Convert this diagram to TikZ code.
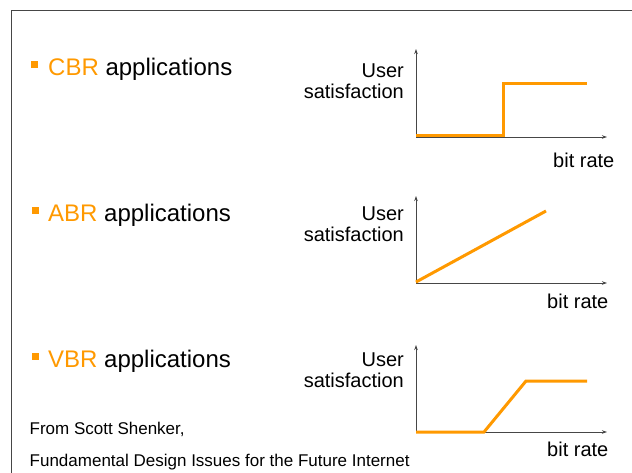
\documentclass[tikz,border=0pt]{standalone}
\usepackage{fontspec}
\setmainfont{Liberation Sans}
\usetikzlibrary{arrows.meta}
\definecolor{accent}{RGB}{255,153,0}
\definecolor{axisgray}{RGB}{70,70,70}
\begin{document}
\begin{tikzpicture}[x=1pt,y=-1pt,
  heading/.style={anchor=base west,inner sep=0pt,font=\fontsize{24}{28}\selectfont},
  ylabel/.style={anchor=base east,inner sep=0pt,font=\fontsize{20}{21}\selectfont},
  xlabel/.style={anchor=base west,inner sep=0pt,font=\fontsize{20}{24}\selectfont},
  credit/.style={anchor=base west,inner sep=0pt,font=\fontsize{17}{20}\selectfont},
  axis/.style={draw=axisgray,line width=0.9pt,-{Stealth[length=5pt,width=3.5pt]}},
  curve/.style={draw=accent,line width=3pt,line join=miter},
  bulletsq/.style={fill=accent}]
\useasboundingbox (0,0) rectangle (632,473);
% slide frame
\draw[axisgray,line width=1pt] (640,10.5) -- (11.5,10.5) -- (11.5,480);

% ---------- CBR ----------
\fill[bulletsq] (31,61) rectangle (38,68);
\node[heading] (cbr) at (48,76) {\textcolor{accent}{CBR} applications};
\node[ylabel] (cbrU) at (404,77.5) {User};
\node[ylabel] (cbrS) at (404,98.5) {satisfaction};
\coordinate (c0) at (416,137);
\coordinate (cy) at (416,49);
\coordinate (cx) at (607,137);
\draw[axis] (c0) -- (cy);
\draw[axis] (c0) -- (cx);
\node[xlabel] (cbrX) at (553,168) {bit rate};
\coordinate (c1) at (416,135.5);
\coordinate (c2) at (503.5,135.5);
\coordinate (c3) at (503.5,84);
\coordinate (c4) at (587,84);
\draw[curve] (c1) -- (c2) -- (c3) -- (c4);

% ---------- ABR ----------
\fill[bulletsq] (31.5,207) rectangle (38.5,214);
\node[heading] (abr) at (48,221.5) {\textcolor{accent}{ABR} applications};
\node[ylabel] (abrU) at (404,220.5) {User};
\node[ylabel] (abrS) at (404,241.5) {satisfaction};
\coordinate (a0) at (416,283);
\coordinate (ay) at (416,196);
\coordinate (ax) at (607,283);
\draw[axis] (a0) -- (ay);
\draw[axis] (a0) -- (ax);
\node[xlabel] (abrX) at (547,308) {bit rate};
\coordinate (a1) at (416,282);
\coordinate (a2) at (546,211);
\draw[curve] (a1) -- (a2);

% ---------- VBR ----------
\fill[bulletsq] (31.5,353) rectangle (38.5,360);
\node[heading] (vbr) at (48,367.5) {\textcolor{accent}{VBR} applications};
\node[ylabel] (vbrU) at (404,366) {User};
\node[ylabel] (vbrS) at (404,387) {satisfaction};
\coordinate (v0) at (416,432);
\coordinate (vy) at (416,345);
\coordinate (vx) at (607,432);
\draw[axis] (v0) -- (vy);
\draw[axis] (v0) -- (vx);
\node[xlabel] (vbrX) at (547,456) {bit rate};
\coordinate (v1) at (416,432);
\coordinate (v2) at (484,432);
\coordinate (v3) at (526,381);
\coordinate (v4) at (587,381);
\draw[curve] (v1) -- (v2) -- (v3) -- (v4);

% ---------- source ----------
\node[credit] (src1) at (29.5,434) {From Scott Shenker,};
\node[credit] (src2) at (29.5,466) {Fundamental Design Issues for the Future Internet};
\end{tikzpicture}
\end{document}
